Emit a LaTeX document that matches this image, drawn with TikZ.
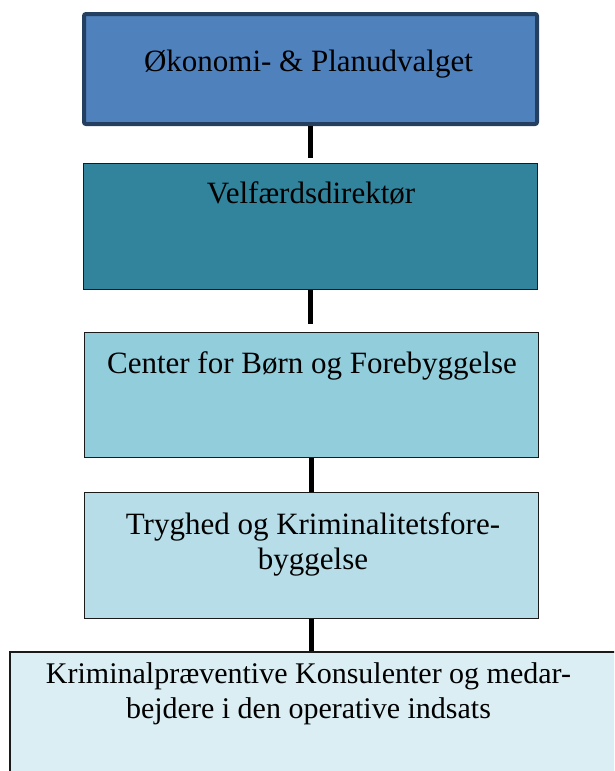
\documentclass[tikz,border=0pt]{standalone}
\usepackage{fontspec}
\setmainfont{Liberation Serif}
\definecolor{c1}{HTML}{4F81BD}
\definecolor{c1b}{HTML}{243F60}
\definecolor{c2}{HTML}{31849B}
\definecolor{c3}{HTML}{92CDDC}
\definecolor{c4}{HTML}{B6DDE8}
\definecolor{c5}{HTML}{DAEEF3}
\definecolor{bd}{HTML}{1A1A1A}
\tikzset{
  orgbox/.style={draw=bd, line width=1.5pt, rectangle, inner sep=0pt},
  lbl/.style={inner sep=0pt, font=\fontsize{31}{35}\selectfont, align=center, text=black},
  link/.style={line width=5pt, black}
}
\begin{document}
\begin{tikzpicture}[x=1pt,y=-1pt]
\useasboundingbox (0,0) rectangle (614,771);
\clip (0,0) rectangle (614,771);
% boxes
\node[orgbox, draw=c1b, line width=4pt, rounded corners=2pt, fill=c1, minimum width=453pt, minimum height=110pt] (b1) at (310.5,69) {};
\node[orgbox, fill=c2, minimum width=454pt, minimum height=126pt] (b2) at (310.5,226.5) {};
\node[orgbox, fill=c3, minimum width=454pt, minimum height=125pt] (b3) at (311.5,395) {};
\node[orgbox, fill=c4, minimum width=454pt, minimum height=126pt] (b4) at (311.5,555.5) {};
\node[orgbox, fill=c5, minimum width=630pt, minimum height=148pt] (b5) at (325,726) {};
% texts
\node[lbl, anchor=base] (t1) at (308.5,71) {Økonomi- \& Planudvalget};
\node[lbl, anchor=base] (t2) at (311,203) {Velfærdsdirektør};
\node[lbl, anchor=base] (t3) at (312,373) {Center for Børn og Forebyggelse};
\node[lbl, anchor=north] (t4) at (313,512) {Tryghed og Kriminalitetsfore-\\byggelse};
\node[lbl, font=\fontsize{30}{35}\selectfont, anchor=north] (t5) at (308.5,662.5) {Kriminalpræventive Konsulenter og medar-\\bejdere i den operative indsats};
% connectors
\draw[link, shorten >=5pt] (b1.south) -- (b1.south |- b2.north);
\draw[link, shorten >=8pt] (b2.south) -- (b2.south |- b3.north);
\draw[link] (b3.south) -- (b3.south |- b4.north);
\draw[link] (b4.south) -- (b4.south |- b5.north);
\end{tikzpicture}
\end{document}
